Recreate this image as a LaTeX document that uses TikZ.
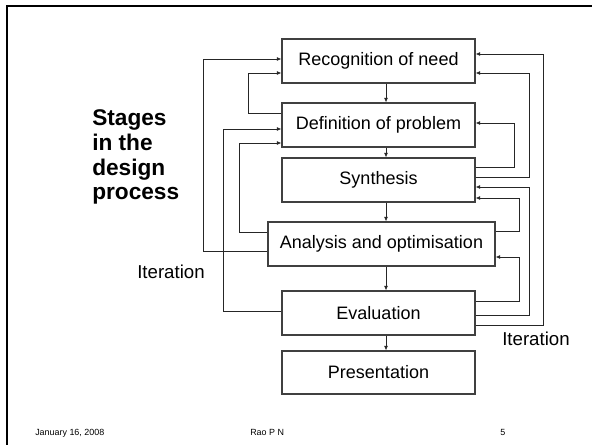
\documentclass[tikz,border=0pt]{standalone}
\usepackage{fontspec}
\setmainfont{Liberation Sans}
\usetikzlibrary{arrows.meta}
\begin{document}
\begin{tikzpicture}[x=0.75pt,y=-0.75pt,
  stage/.style={draw=black!75, line width=0.8pt, minimum width=144.75pt, minimum height=33pt, inner sep=0pt, font=\fontsize{13.5}{16}\selectfont},
  link/.style={draw=black!85, line width=0.6pt},
  arr/.style={link, -{Latex[length=3.5pt,width=3pt]}},
  label/.style={inner sep=0pt, anchor=base west, font=\fontsize{14}{16}\selectfont},
  foot/.style={inner sep=0pt, anchor=base west, font=\fontsize{6.7}{8}\selectfont}
  ]
\useasboundingbox (0,0) rectangle (592,445);
\draw[line width=1.6pt] (7,445) -- (7,6) -- (592,6);

\node[stage] (rec) at (378.5,61) {Recognition of need};
\node[stage] (def) at (378.5,125) {Definition of problem};
\node[stage] (syn) at (378.5,180) {Synthesis};
\node[stage, minimum width=170.25pt] (ana) at (381.5,244) {Analysis and optimisation};
\node[stage] (eva) at (378.5,313) {Evaluation};
\node[stage, minimum height=32.25pt] (pre) at (378.5,372.5) {Presentation};

% downward arrows
\draw[arr] (rec.south -| 386,0) -- (def.north -| 386,0);
\draw[arr] (def.south -| 386,0) -- (syn.north -| 386,0);
\draw[arr] (syn.south -| 386,0) -- (ana.north -| 386,0);
\draw[arr] (ana.south -| 386,0) -- (eva.north -| 386,0);
\draw[arr] (eva.south -| 386,0) -- (pre.north -| 386,0);

% left feedback
\draw[arr] (ana.west |- 0,251) -| (203,59) -- (rec.west |- 0,59);
\draw[arr] (def.west |- 0,113) -| (248,73) -- (rec.west |- 0,73);
\draw[arr] (eva.west |- 0,311) -| (223,129) -- (def.west |- 0,129);
\draw[arr] (ana.west |- 0,232) -| (239,143) -- (def.west |- 0,143);

% right feedback
\draw[arr] (eva.east |- 0,325) -| (543,54) -- (rec.east |- 0,54);
\draw[arr] (syn.east |- 0,177) -| (529,73) -- (rec.east |- 0,73);
\draw[arr] (syn.east |- 0,167) -| (514,123) -- (def.east |- 0,123);
\draw[arr] (eva.east |- 0,315) -| (529,187) -- (syn.east |- 0,187);
\draw[arr] (ana.east |- 0,231) -| (519,198) -- (syn.east |- 0,198);
\draw[arr] (eva.east |- 0,301) -| (519,257) -- (ana.east |- 0,257);

% texts
\node[inner sep=0pt, anchor=base west, align=left, font=\fontsize{17}{18.5}\selectfont\bfseries] (stages) at (92,200) {Stages\\in the\\design\\process};
\node[label] (it1) at (137,278) {Iteration};
\node[label] (it2) at (502,345) {Iteration};

\node[foot] (date) at (35,435) {January 16, 2008};
\node[foot] (auth) at (250,435) {Rao P N};
\node[foot] (page) at (500,435) {5};
\end{tikzpicture}
\end{document}
